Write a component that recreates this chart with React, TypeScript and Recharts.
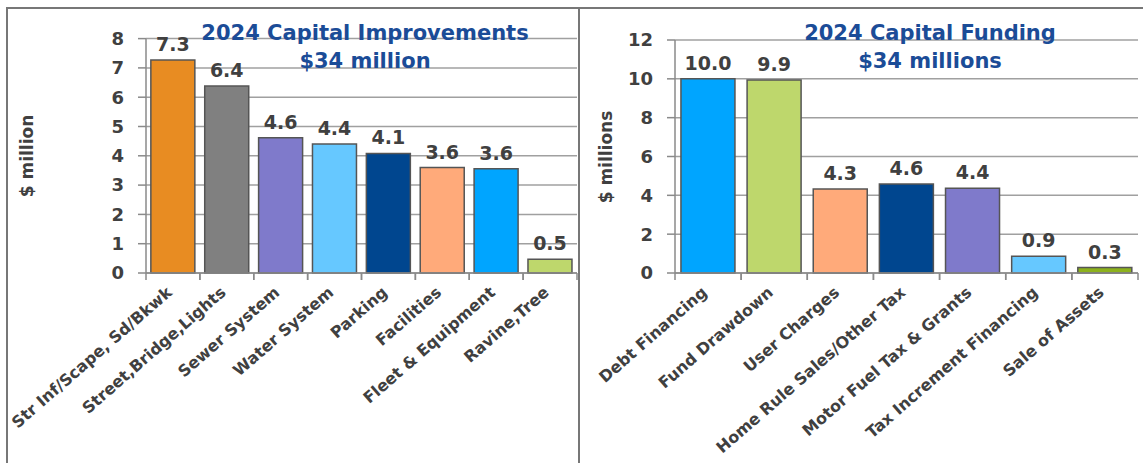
import { Bar, BarChart, CartesianGrid, Cell, LabelList, XAxis, YAxis } from 'recharts';

const improvementCategories = [
  'Str Inf/Scape, Sd/Bkwk',
  'Street,Bridge,Lights',
  'Sewer System',
  'Water System',
  'Parking',
  'Facilities',
  'Fleet & Equipment',
  'Ravine,Tree',
];
const improvementValues = [7.27, 6.38, 4.62, 4.4, 4.08, 3.6, 3.56, 0.47];
const improvementColors = ['#E88C22', '#808080', '#7F7ACB', '#66C8FF', '#00468F', '#FFAA7A', '#00A5FF', '#BED76C'];
const improvementTicks = [0, 1, 2, 3, 4, 5, 6, 7, 8];

const fundingCategories = [
  'Debt Financing',
  'Fund Drawdown',
  'User Charges',
  'Home Rule Sales/Other Tax',
  'Motor Fuel Tax & Grants',
  'Tax Increment Financing',
  'Sale of Assets',
];
const fundingValues = [10.0, 9.94, 4.33, 4.58, 4.36, 0.86, 0.28];
const fundingColors = ['#00A5FF', '#BED76C', '#FFAA7A', '#00468F', '#7F7ACB', '#66C8FF', '#8DB21C'];
const fundingTicks = [0, 2, 4, 6, 8, 10, 12];

const FONT = "'DejaVu Sans', sans-serif";
const TEXT = '#404040';
const TITLE = '#1B4C97';
const AXIS = '#8a8a8a';
const GRID = '#a0a0a0';

interface TickProps {
  x?: number;
  y?: number;
  payload?: { value: string };
  band: number;
}

// category label plus Excel-style tick marks between the categories
function CategoryTick({ x = 0, y = 0, payload, band }: TickProps) {
  const ty = y + 21;
  return (
    <g>
      <line x1={x - band / 2} x2={x - band / 2} y1={y} y2={y + 7} stroke={AXIS} strokeWidth={1.5} />
      <line x1={x + band / 2} x2={x + band / 2} y1={y} y2={y + 7} stroke={AXIS} strokeWidth={1.5} />
      <text
        x={x}
        y={ty}
        transform={`rotate(-41, ${x}, ${ty})`}
        textAnchor="end"
        fill={TEXT}
        fontFamily={FONT}
        fontWeight="bold"
        fontSize={16}
      >
        {payload?.value}
      </text>
    </g>
  );
}

interface PanelProps {
  categories: string[];
  values: number[];
  colors: string[];
  ticks: number[];
  left: number;
  width: number;
  top: number;
  right: number;
  yAxisWidth: number;
}

function Panel({ categories, values, colors, ticks, left, width, top, right, yAxisWidth }: PanelProps) {
  const data = categories.map((name, i) => ({ name, value: values[i] }));
  const band = (width - yAxisWidth - right) / categories.length;
  return (
    <div style={{ position: 'absolute', left, top: 0 }}>
      <BarChart
        width={width}
        height={463}
        data={data}
        margin={{ top, right, bottom: 0, left: 0 }}
        barCategoryGap="9%"
      >
        <CartesianGrid vertical={false} stroke={GRID} strokeWidth={1.5} />
        <XAxis
          dataKey="name"
          interval={0}
          height={190}
          tickSize={0}
          tickMargin={0}
          tickLine={false}
          axisLine={{ stroke: AXIS, strokeWidth: 1.5 }}
          tick={(props: any) => <CategoryTick {...props} band={band} />}
        />
        <YAxis
          width={yAxisWidth}
          domain={[ticks[0], ticks[ticks.length - 1]]}
          ticks={ticks}
          interval={0}
          tickSize={8}
          tickMargin={14}
          axisLine={{ stroke: AXIS, strokeWidth: 1.5 }}
          tickLine={{ stroke: AXIS, strokeWidth: 1.5 }}
          tick={{ fill: TEXT, fontFamily: FONT, fontWeight: 'bold', fontSize: 18 }}
        />
        <Bar dataKey="value" isAnimationActive={false} stroke="#555555" strokeWidth={1.5}>
          {data.map((entry, i) => (
            <Cell key={`cell-${entry.name}`} fill={colors[i]} />
          ))}
          <LabelList
            dataKey="value"
            position="top"
            offset={9}
            formatter={(v: any) => Number(v).toFixed(1)}
            fill={TEXT}
            fontFamily={FONT}
            fontWeight="bold"
            fontSize={19}
          />
        </Bar>
      </BarChart>
    </div>
  );
}

export default function App() {
  return (
    <div
      style={{
        position: 'absolute',
        left: 0,
        top: 0,
        width: 1143,
        height: 463,
        overflow: 'hidden',
        background: '#fff',
      }}
    >
      {/* panel frames */}
      <div style={{ position: 'absolute', left: 6, top: 7, width: 570, height: 480, border: '2px solid #777' }} />
      <div style={{ position: 'absolute', left: 578, top: 7, width: 600, height: 480, border: '2px solid #777' }} />

      <Panel
        categories={improvementCategories}
        values={improvementValues}
        colors={improvementColors}
        ticks={improvementTicks}
        left={0}
        width={578}
        top={38.6}
        right={1}
        yAxisWidth={146}
      />
      <Panel
        categories={fundingCategories}
        values={fundingValues}
        colors={fundingColors}
        ticks={fundingTicks}
        left={580}
        width={563}
        top={40}
        right={5}
        yAxisWidth={95}
      />

      {/* titles and axis titles */}
      <svg width={1143} height={463} style={{ position: 'absolute', left: 0, top: 0, pointerEvents: 'none' }}>
        <g fontFamily={FONT} fontWeight="bold" fill={TITLE} fontSize={21} textAnchor="middle">
          <text x={365} y={40}>2024 Capital Improvements</text>
          <text x={365} y={68}>$34 million</text>
          <text x={930} y={40}>2024 Capital Funding</text>
          <text x={930} y={68}>$34 millions</text>
        </g>
        <g fontFamily={FONT} fontWeight="bold" fill={TEXT} fontSize={17} textAnchor="middle">
          <text x={27} y={156} transform="rotate(-90, 27, 156)" dominantBaseline="central">
            $ million
          </text>
          <text x={606} y={157} transform="rotate(-90, 606, 157)" dominantBaseline="central">
            $ millions
          </text>
        </g>
      </svg>
    </div>
  );
}
